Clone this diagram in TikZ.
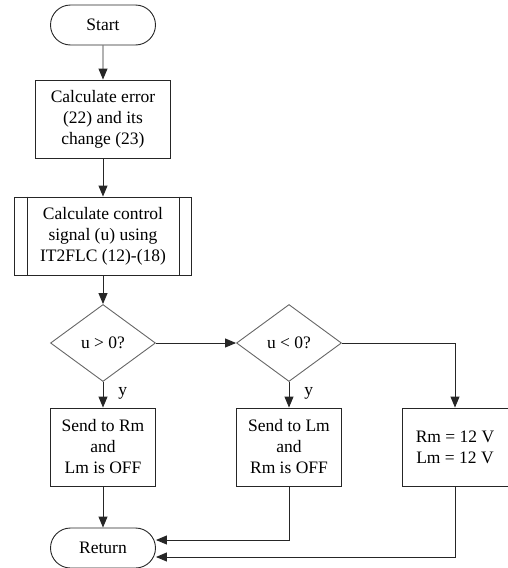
\documentclass[tikz,border=0pt]{standalone}
\usepackage{fontspec}
\setmainfont{Liberation Serif}
\usetikzlibrary{arrows.meta,shapes.geometric,shapes.misc,calc}
\begin{document}
\begin{tikzpicture}[x=1pt,y=-1pt,
  every node/.style={font=\fontsize{17.5}{21}\selectfont, align=center, inner sep=0pt},
  line/.style={draw=black!85, line width=0.9pt},
  arr/.style={line, -{Triangle[length=11pt,width=9pt]}},
  term/.style={rounded rectangle, line, minimum width=105pt, minimum height=40pt},
  proc/.style={rectangle, line, minimum width=105pt, minimum height=78pt},
  dec/.style={diamond, line, draw=black!60, minimum width=105pt, minimum height=77pt, aspect=1.36}]
\useasboundingbox (0,0) rectangle (507,568);
\node[term] (start) at (103,25) {Start};
\node[rectangle, line, minimum width=135pt, minimum height=78pt] (calc) at (103,119) {Calculate error\\(22) and its\\change (23)};
\node[rectangle, line, minimum width=177pt, minimum height=78pt] (ctrl) at (103,236) {Calculate control\\signal (u) using\\IT2FLC (12)-(18)};
\draw[line] ($(ctrl.north west)+(13,0)$) -- ($(ctrl.south west)+(13,0)$);
\draw[line] ($(ctrl.north east)+(-13,0)$) -- ($(ctrl.south east)+(-13,0)$);
\node[dec] (d1) at (103,343) {u > 0?};
\node[dec] (d2) at (289,343) {u < 0?};
\node[proc] (bA) at (103,447) {Send to Rm\\and\\Lm is OFF};
\node[proc] (bB) at (289,447) {Send to Lm\\and\\Rm is OFF};
\node[proc, minimum width=106pt] (bC) at (455,447) {Rm = 12 V\\Lm = 12 V};
\node[term] (ret) at (103,548) {Return};
\draw[arr] (start) -- (calc);
\draw[arr] (calc) -- (ctrl);
\draw[arr] (ctrl) -- (d1);
\draw[arr] (d1) -- (d2);
\draw[arr] (d2.east) -| (bC.north);
\draw[arr] (d1) -- node[pos=0.45, right=15pt] {y} (bA);
\draw[arr] (d2) -- node[pos=0.45, right=15pt] {y} (bB);
\draw[arr] (bA) -- (ret);
\coordinate (rB) at ($(ret.east)+(0,-8)$);
\coordinate (rC) at ($(ret.east)+(0,9)$);
\draw[arr] (bB.south) |- (rB);
\draw[arr] (bC.south) |- (rC);
\end{tikzpicture}
\end{document}
